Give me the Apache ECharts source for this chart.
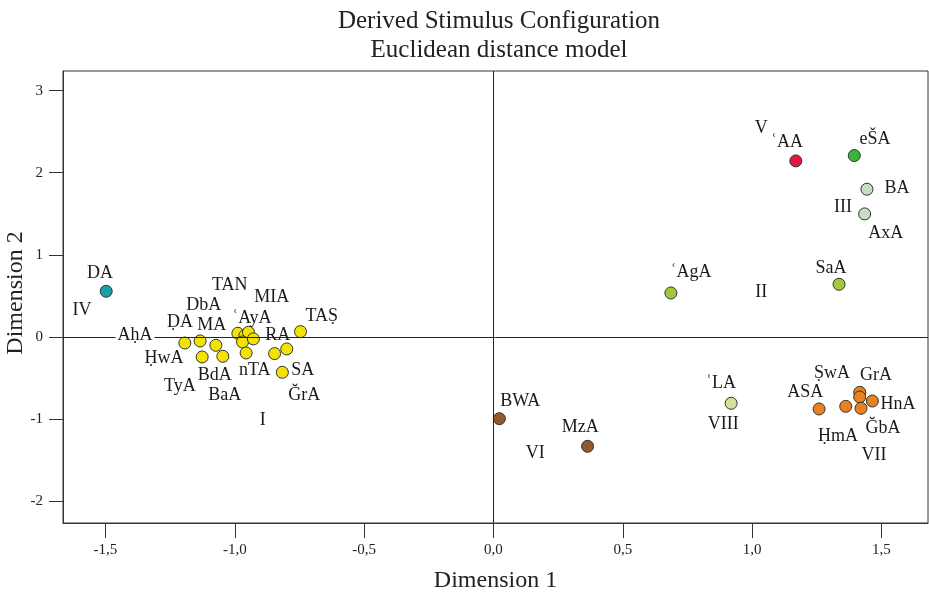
<!DOCTYPE html>
<html><head><meta charset="utf-8">
<script src="https://cdn.jsdelivr.net/npm/echarts@6/dist/echarts.min.js"></script>
<style>html,body{margin:0;padding:0;background:#fff}#c{width:929px;height:598px}</style>
</head><body><div id="c"></div>
<script>
// Stimulus points (Dimension 1, Dimension 2)
const pointNames = ['DA',
  'I-1','I-2','I-3','I-4','I-5','I-6','I-7','I-8','I-9','I-10','I-11','I-12','I-13','I-14','I-15',
  'ʿAgA','SaA','BA','AxA','ʿAA','eŠA','BWA','MzA',
  'ASA','VII-2','GrA','ṢwA','ĞbA','HnA','ʿLA'];
const pointX = [-1.497,
  -1.193,-1.134,-1.073,-1.126,-1.046,-0.988,-0.961,-0.947,-0.970,-0.928,-0.956,-0.846,-0.799,-0.816,-0.746,
  0.686,1.336,1.444,1.435,1.169,1.395,0.023,0.364,
  1.259,1.362,1.416,1.416,1.421,1.465,0.919];
const pointY = [0.555,
  -0.076,-0.051,-0.104,-0.246,-0.238,0.043,0.015,0.055,-0.063,-0.026,-0.197,-0.205,-0.148,-0.433,0.063,
  0.534,0.640,1.799,1.498,2.144,2.209,-0.998,-1.335,
  -0.880,-0.848,-0.677,-0.734,-0.872,-0.783,-0.811];
const pointColors = ['#1a9fa6',
  '#f4e300','#f4e300','#f4e300','#f4e300','#f4e300','#f4e300','#f4e300','#f4e300','#f4e300','#f4e300','#f4e300','#f4e300','#f4e300','#f4e300','#f4e300',
  '#a3c93a','#a3c93a','#c3dfc0','#c3dfc0','#e0183e','#3cb43c','#93592a','#93592a',
  '#e8811f','#e8811f','#e8811f','#e8811f','#e8811f','#e8811f','#d6e09a'];

// Text annotations (names and group numerals)
const labelTexts = ['DA','IV','AḥA','TAN','MIA','DbA','ʿAyA','TAṢ','ḌA','MA','RA','ḤwA','BdA','nTA','SA','TyA','BaA','ĞrA','I',
  'V','ʿAA','eŠA','BA','III','AxA','SaA','ʿAgA','II','ṢwA','GrA','ASA','HnA','ĞbA','ḤmA','VII','ʿLA','VIII','BWA','MzA','VI'];
const labelX = [-1.521,-1.591,-1.386,-1.019,-0.857,-1.120,-0.934,-0.664,-1.212,-1.089,-0.834,-1.274,-1.077,-0.923,-0.737,-1.212,-1.039,-0.731,-0.892,
  1.035,1.135,1.475,1.560,1.351,1.517,1.305,0.764,1.035,1.309,1.479,1.205,1.564,1.506,1.332,1.471,0.880,0.888,0.104,0.336,0.162];
const labelY = [0.780,0.323,0.018,0.628,0.482,0.384,0.226,0.250,0.175,0.140,0.018,-0.262,-0.470,-0.409,-0.409,-0.604,-0.713,-0.713,-1.018,
  2.543,2.372,2.409,1.811,1.579,1.262,0.835,0.787,0.543,-0.445,-0.470,-0.677,-0.823,-1.116,-1.213,-1.445,-0.567,-1.067,-0.787,-1.104,-1.421];

const xTicks = [-1.5,-1,-0.5,0,0.5,1,1.5];
const yTicks = [-2,-1,0,1,2,3];

const FONT = 'Liberation Serif';
const chart = echarts.init(document.getElementById('c'), null, {renderer:'canvas'});

const pts = pointX.map((x,i)=>({value:[x,pointY[i]], name:pointNames[i], itemStyle:{color:pointColors[i]}}));
const labs = labelX.map((x,i)=>{
  const d = {value:[x,labelY[i]], name:labelTexts[i]};
  if (labelTexts[i]==='AḥA') d.label = {backgroundColor:'#fff', padding:[0,2]};
  return d;
});

chart.setOption({
  animation:false,
  backgroundColor:'#fff',
  title:{
    text:'Derived Stimulus Configuration\nEuclidean distance model',
    left:494, top:2, textAlign:'center',
    textStyle:{fontFamily:FONT, fontSize:25, fontWeight:'normal', color:'#222', lineHeight:29}
  },
  graphic:[{
    type:'text', x:16, y:293, rotation:Math.PI/2,
    style:{text:'Dimension 2', fontFamily:FONT, fontSize:24, fill:'#222', textAlign:'center', textVerticalAlign:'middle'}
  }],
  grid:{left:63, right:1, top:71, bottom:75, show:true, borderColor:'#333', borderWidth:1},
  xAxis:{
    type:'value', min:-1.664, max:1.68,
    name:'Dimension 1', nameLocation:'middle', nameGap:46,
    nameTextStyle:{fontFamily:FONT, fontSize:24, color:'#222'},
    axisLine:{show:true, onZero:false, lineStyle:{color:'#333'}},
    axisTick:{show:true, customValues:xTicks, length:15, lineStyle:{color:'#333'}},
    axisLabel:{customValues:xTicks, margin:20, fontFamily:FONT, fontSize:15, color:'#222',
      formatter:v=>v.toFixed(1).replace('.',',')},
    splitLine:{show:false}
  },
  yAxis:{
    type:'value', min:-2.27, max:3.24,
    axisLine:{show:true, onZero:false, lineStyle:{color:'#333'}},
    axisTick:{show:true, customValues:yTicks, length:14, lineStyle:{color:'#333'}},
    axisLabel:{customValues:yTicks, margin:20, fontFamily:FONT, fontSize:15, color:'#222',
      formatter:v=>String(v)},
    splitLine:{show:false}
  },
  series:[
    {
      type:'scatter', z:3, symbolSize:12, data:pts,
      itemStyle:{borderColor:'#333', borderWidth:1, opacity:1},
      markLine:{silent:true, symbol:'none', label:{show:false},
        lineStyle:{color:'#222', width:1, type:'solid'},
        data:[{xAxis:0},{yAxis:0}]}
    },
    {
      type:'scatter', z:5, symbolSize:1, data:labs, silent:true,
      itemStyle:{color:'rgba(0,0,0,0)', opacity:1},
      label:{show:true, position:'inside', formatter:p=>p.name, fontFamily:FONT, fontSize:18,
        color:'#1a1a1a', opacity:1, textBorderWidth:0}
    }
  ]
});
</script></body></html>
